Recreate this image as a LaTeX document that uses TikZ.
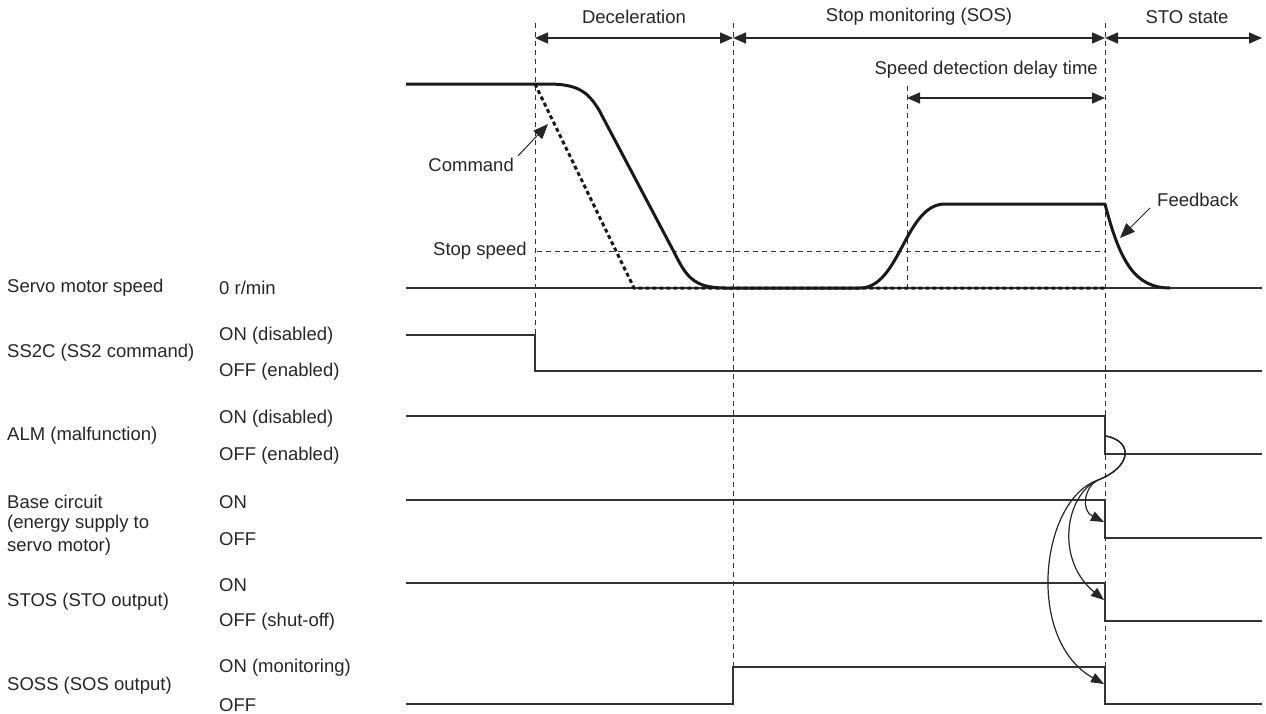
\documentclass[tikz,border=0pt]{standalone}
\usepackage{fontspec}
\setmainfont{Liberation Sans}
\usetikzlibrary{arrows.meta}
\begin{document}
\begin{tikzpicture}[x=1pt,y=-1pt,
  lbl/.style={inner sep=0pt,font=\fontsize{18.5}{22}\selectfont,text=black!85},
  sig/.style={line width=1.2pt,draw=black!80},
  guide/.style={line width=1pt,draw=black!80,dash pattern=on 5pt off 4pt},
  span/.style={line width=1.5pt,draw=black!85,{Triangle[length=13pt,width=11pt]}-{Triangle[length=13pt,width=11pt]}},
  speedcurve/.style={line width=3pt,draw=black!90,line join=round},
  cmdline/.style={line width=3pt,draw=black!90,dash pattern=on 4pt off 3pt},
  note/.style={line width=1pt,draw=black!85,-{Triangle[length=15pt,width=12pt]}},
  cause/.style={line width=1.2pt,draw=black!85,-{Triangle[length=13pt,width=10pt]}}
]
\useasboundingbox (0,0) rectangle (1266,713);

% time marks
\coordinate (d0) at (535,38);
\coordinate (d1) at (733,38);
\coordinate (d2) at (1105,38);
\coordinate (d3) at (1262,38);
\coordinate (s0) at (907,98);
\coordinate (s1) at (1105,98);

% guide lines
\draw[guide] (535,23) -- (535,371);
\draw[guide] (733,23) -- (733,667);
\draw[guide] (1105,23) -- (1105,704);
\draw[guide] (907,86) -- (907,288);

% phase spans
\draw[span] (d0) -- (d1);
\draw[span] (d1) -- (d2);
\draw[span] (d2) -- (d3);
\draw[span] (s0) -- (s1);
\node[lbl] (tdec) at (634,17) {Deceleration};
\node[lbl] (tsos) at (919,17) {Stop monitoring (SOS)};
\node[lbl] (tsto) at (1187,17) {STO state};
\node[lbl,anchor=east] (tdel) at (1098,70) {Speed detection delay time};

% stop speed
\node[lbl,anchor=east] (stopspd) at (527,251) {Stop speed};
\draw[guide] (537,251) -- (1105,251);

% zero speed line
\draw[sig] (406,288) -- (1262,288);

% command (dotted)
\draw[cmdline] (535,84) -- (634,288) -- (1105,288);

% feedback speed
\draw[speedcurve] (406,84) -- (548,84) .. controls (578,84) and (588,92) .. (599,110)
  -- (674,252) .. controls (686,276) and (693,288) .. (725,288) -- (860,288)
  .. controls (900,288) and (905,204) .. (945,204) -- (1105,204)
  .. controls (1120,262) and (1135,288) .. (1170,288);

% annotations
\node[lbl,anchor=east] (cmdlbl) at (514,165) {Command};
\coordinate (cmdtip) at (548,124);
\draw[note] (cmdlbl.north east) ++(4,-2) -- (cmdtip);
\node[lbl,anchor=west] (fblbl) at (1157,200) {Feedback};
\coordinate (fbtip) at (1120,238);
\draw[note] (fblbl.south west) ++(-7,1) -- (fbtip);

% signal lines
\draw[sig] (406,335) -- (535,335) -- (535,371) -- (1262,371);
\draw[sig] (406,416) -- (1105,416) -- (1105,454) -- (1262,454);
\draw[sig] (406,500) -- (1105,500) -- (1105,538) -- (1262,538);
\draw[sig] (406,583) -- (1105,583) -- (1105,621) -- (1262,621);
\draw[sig] (406,704) -- (733,704) -- (733,667) -- (1105,667) -- (1105,704) -- (1262,704);

% causal arrows
\coordinate (almE) at (1106,436);
\coordinate (mid) at (1098,480);
\coordinate (baseE) at (1104,522);
\coordinate (stosE) at (1104,600);
\coordinate (sossE) at (1104,684);
\draw[cause] (almE) .. controls (1135,442) and (1130,468) .. (mid)
  .. controls (1085,486) and (1080,510) .. (baseE);
\draw[cause] (almE) .. controls (1135,442) and (1130,468) .. (mid)
  .. controls (1065,495) and (1055,560) .. (stosE);
\draw[cause] (almE) .. controls (1135,442) and (1130,468) .. (mid)
  .. controls (1040,500) and (1025,640) .. (sossE);

% left labels
\node[lbl,anchor=west] (l1) at (7,288) {Servo motor speed};
\node[lbl,anchor=west] (l2) at (7,353) {SS2C (SS2 command)};
\node[lbl,anchor=west] (l3) at (7,436) {ALM (malfunction)};
\node[lbl,anchor=west] (l4a) at (7,502) {Base circuit};
\node[lbl,anchor=west] (l4b) at (7,524) {(energy supply to};
\node[lbl,anchor=west] (l4c) at (7,547) {servo motor)};
\node[lbl,anchor=west] (l5) at (7,602) {STOS (STO output)};
\node[lbl,anchor=west] (l6) at (7,686) {SOSS (SOS output)};

% state labels
\node[lbl,anchor=west] (v0) at (219,288) {0 r/min};
\node[lbl,anchor=west] (v1) at (219,336) {ON (disabled)};
\node[lbl,anchor=west] (v2) at (219,372) {OFF (enabled)};
\node[lbl,anchor=west] (v3) at (219,419) {ON (disabled)};
\node[lbl,anchor=west] (v4) at (219,456) {OFF (enabled)};
\node[lbl,anchor=west] (v5) at (219,502) {ON};
\node[lbl,anchor=west] (v6) at (219,539) {OFF};
\node[lbl,anchor=west] (v7) at (219,585) {ON};
\node[lbl,anchor=west] (v8) at (219,622) {OFF (shut-off)};
\node[lbl,anchor=west] (v9) at (219,668) {ON (monitoring)};
\node[lbl,anchor=west] (v10) at (219,705) {OFF};
\end{tikzpicture}
\end{document}
